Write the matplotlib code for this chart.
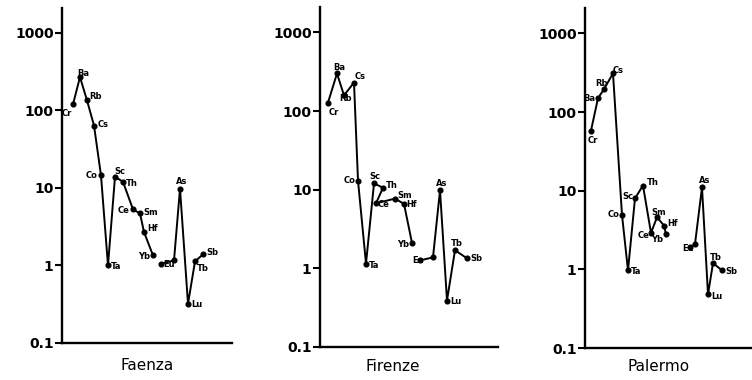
import matplotlib as mpl
mpl.use("Agg")
import matplotlib.pyplot as plt

mpl.rcParams["font.family"] = "DejaVu Sans"

# element order along each profile; "" = unlabelled point
ELEMENTS = ["Cr", "Ba", "Rb", "Cs", "Co", "Ta", "Sc", "Th", "Ce", "Sm", "Hf",
            "Yb", "Eu", "", "As", "Lu", "Tb", "Sb"]
BREAK = 12  # line is broken between Yb and Eu

# horizontal position of each element inside its panel
FAENZA_POS = [11, 18, 25, 32, 39, 46, 53, 61, 71, 78, 82, 91, 99, 112, 118, 126, 133, 141]
FAENZA_VAL = [120, 270, 135, 64, 14.5, 1.0, 14, 12, 5.3, 4.7, 2.7, 1.35,
              1.06, 1.16, 9.8, 0.32, 1.13, 1.39]

FIRENZE_POS = [8, 17, 24, 34, 38, 46, 54, 63, 56, 75, 84, 92, 100, 113, 120, 127, 135, 147]
FIRENZE_VAL = [128, 300, 158, 230, 13, 1.15, 12, 10.6, 6.7, 7.7, 6.6, 2.1,
               1.26, 1.38, 9.8, 0.39, 1.7, 1.34]

PALERMO_POS = [6, 13, 19, 28, 37, 43, 50, 58, 66, 72, 79, 81, 105, 110, 117, 123, 128, 137]
PALERMO_VAL = [58, 150, 195, 310, 4.9, 0.97, 8, 11.6, 2.9, 4.6, 3.6, 2.8,
               1.9, 2.1, 11, 0.48, 1.2, 0.97]

TITLES = ["Faenza", "Firenze", "Palermo"]
YTICKS = [0.1, 1, 10, 100, 1000]
YTICK_LABELS = ["0.1", "1", "10", "100", "1000"]

# label offsets (px) and alignment per panel
OFF_FAENZA = {
    "Cr": (-6, -9, "center"), "Ba": (3, 4, "center"), "Rb": (9, 4, "center"),
    "Cs": (9, 1, "center"), "Co": (-3, 0, "right"), "Ta": (3, -1, "left"),
    "Sc": (5, 5, "center"), "Th": (3, -2, "left"), "Ce": (-3, -1, "right"),
    "Sm": (3, 1, "left"), "Hf": (3, 4, "left"), "Yb": (-3, -1, "right"),
    "Eu": (2, -1, "left"), "As": (2, 7, "center"), "Lu": (3, -1, "left"),
    "Tb": (2, -7, "left"), "Sb": (3, 2, "left"),
}
OFF_FIRENZE = {
    "Cr": (1, -10, "left"), "Ba": (2, 6, "center"), "Rb": (1, -3, "center"),
    "Cs": (6, 6, "center"), "Co": (-3, 0, "right"), "Ta": (3, -2, "left"),
    "Sc": (1, 7, "center"), "Th": (3, 2, "left"), "Ce": (2, -1, "left"),
    "Sm": (2, 3, "left"), "Hf": (2, -1, "left"), "Yb": (-3, -2, "right"),
    "Eu": (-2, 0, "center"), "As": (2, 7, "center"), "Lu": (3, -1, "left"),
    "Tb": (2, 7, "center"), "Sb": (3, 0, "left"),
}
OFF_PALERMO = {
    "Cr": (2, -10, "center"), "Ba": (-3, 0, "right"), "Rb": (-2, 6, "center"),
    "Cs": (5, 3, "center"), "Co": (-3, 1, "right"), "Ta": (3, -1, "left"),
    "Sc": (-2, 2, "right"), "Th": (4, 3, "left"), "Ce": (-2, -3, "right"),
    "Sm": (2, 5, "center"), "Hf": (3, 2, "left"), "Yb": (-3, -5, "right"),
    "Eu": (-2, -1, "center"), "As": (3, 7, "center"), "Lu": (3, -2, "left"),
    "Tb": (3, 6, "center"), "Sb": (3, -1, "left"),
}

W, H = 752, 380
# axes boxes in pixels: left, right, bottom(y of 0.1), top
BOXES = [(62, 232, 343, 8), (320, 498, 347, 7), (585, 752, 348, 8)]
TITLE_X = [0.5, 0.41, 0.44]
TITLE_DY = [-16, -14, -13]
YTOP = 2100


def panel(fig, box, pos, val, offs, title, tx, tdy):
    l, r, b, t = box
    ax = fig.add_axes([l / W, 1 - b / H, (r - l) / W, (b - t) / H])
    ax.set_yscale("log")
    ax.set_ylim(0.1, YTOP)
    ax.set_xlim(0, r - l)
    for seg in (slice(0, BREAK), slice(BREAK, None)):
        ax.plot(pos[seg], val[seg], color="black", lw=1.4, marker="o",
                ms=3.4, mfc="black", mec="black", clip_on=False)
    for name, x, y in zip(ELEMENTS, pos, val):
        if not name:
            continue
        dx, dy, ha = offs[name]
        ax.annotate(name, (x, y), xytext=(dx * 0.72, dy * 0.72),
                    textcoords="offset points", ha=ha, va="center",
                    fontsize=6, fontweight="bold")
    for s in ("top", "right"):
        ax.spines[s].set_visible(False)
    for s in ("left", "bottom"):
        ax.spines[s].set_linewidth(1.7)
    ax.set_yticks(YTICKS)
    ax.set_yticklabels(YTICK_LABELS)
    ax.yaxis.set_minor_locator(mpl.ticker.NullLocator())
    ax.tick_params(axis="y", length=5, width=1.5, pad=1, labelsize=10)
    for lab in ax.get_yticklabels():
        lab.set_fontweight("bold")
    ax.set_xticks([])
    ax.annotate(title, (tx, 0), xycoords="axes fraction", xytext=(0, tdy),
                textcoords="offset points", ha="center", va="center",
                fontsize=11)
    return ax


fig = plt.figure(figsize=(W / 100, H / 100), dpi=100)
data = [(FAENZA_POS, FAENZA_VAL, OFF_FAENZA),
        (FIRENZE_POS, FIRENZE_VAL, OFF_FIRENZE),
        (PALERMO_POS, PALERMO_VAL, OFF_PALERMO)]
for box, (p, v, o), title, tx, tdy in zip(BOXES, data, TITLES, TITLE_X, TITLE_DY):
    panel(fig, box, p, v, o, title, tx, tdy)

fig.savefig("out.png", dpi=100)
